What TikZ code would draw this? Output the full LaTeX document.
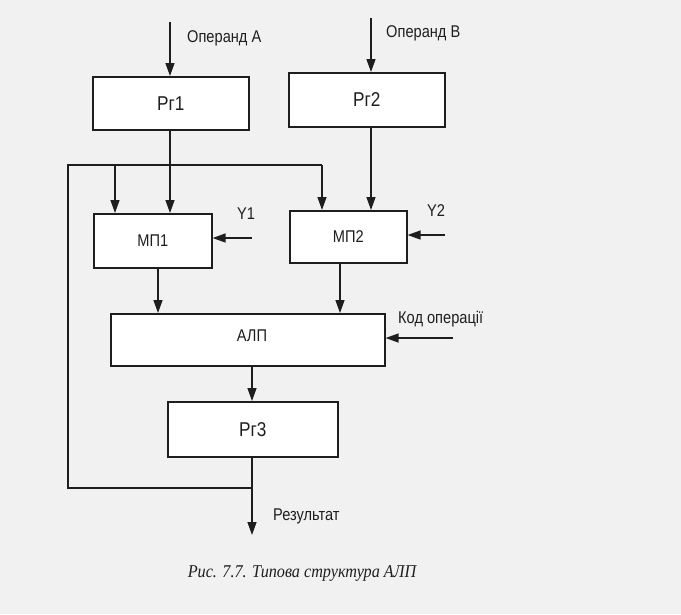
\documentclass[tikz,border=0pt]{standalone}
\usepackage{fontspec}
\setmainfont{Liberation Sans}[FakeStretch=0.86]
\newfontfamily\capfont{Liberation Serif}[FakeStretch=0.9]
\usetikzlibrary{arrows.meta}
\definecolor{bg}{HTML}{F1F1F1}
\definecolor{ink}{HTML}{1E1E1E}
\tikzset{
  blk/.style={draw=ink, line width=1.6pt, fill=white, inner sep=0pt},
  lbl/.style={font=\fontsize{17}{19}\selectfont, text=ink, inner sep=0pt},
  btxt/.style={font=\fontsize{20}{22}\selectfont, text=ink, inner sep=0pt},
  wire/.style={draw=ink, line width=1.4pt},
  arr/.style={wire, -{Triangle[length=13pt,width=9pt]}},
}
\begin{document}
\begin{tikzpicture}[x=1pt,y=-1pt]
\fill[bg] (0,0) rectangle (681,614);
\useasboundingbox (0,0) rectangle (681,614);
% blocks
\node[blk, minimum width=156pt, minimum height=53pt, anchor=north west] (rg1) at (92,76) {};
\node[btxt] at (rg1.center) {Рг1};
\node[blk, minimum width=156pt, minimum height=54pt, anchor=north west] (rg2) at (288,72) {};
\node[btxt] at (rg2.center) {Рг2};
\node[blk, minimum width=118pt, minimum height=54pt, anchor=north west] (mp1) at (93,213) {};
\node[lbl] at (mp1.center) {МП1};
\node[blk, minimum width=117pt, minimum height=52pt, anchor=north west] (mp2) at (289,210) {};
\node[lbl] at (mp2.center) {МП2};
\node[blk, minimum width=274pt, minimum height=52pt, anchor=north west] (alu) at (110,313) {};
\node[lbl] at (252,336) {АЛП};
\node[blk, minimum width=170pt, minimum height=55pt, anchor=north west] (rg3) at (167,401) {};
\node[btxt] at (rg3.center) {Рг3};
% inputs
\coordinate (inA) at (170,22);
\coordinate (inB) at (371,18);
\node[lbl, anchor=west] (opA) at (187,38) {Операнд А};
\node[lbl, anchor=west] (opB) at (386,33) {Операнд В};
\draw[arr] (inA) -- (inA |- rg1.north);
\draw[arr] (inB) -- (inB |- rg2.north);
% Rg1 -> MP1
\draw[arr] (170,129) -- (170,213);
% Rg2 -> MP2
\draw[arr] (371,126) -- (371,210);
% feedback bus
\coordinate (bl) at (68,488);
\coordinate (tl) at (68,165);
\coordinate (tr) at (322,165);
\coordinate (jn) at (252,488);
\draw[wire] (jn) -- (bl) -- (tl) -- (tr);
\draw[arr] (tr) -- (322,210);
\draw[arr] (115,165) -- (115,213);
% control inputs
\node[lbl, anchor=center] (y1) at (246,214) {Y1};
\node[lbl, anchor=center] (y2) at (436,211) {Y2};
\coordinate (y1s) at (252,238);
\coordinate (y2s) at (445,235);
\draw[arr] (y1s) -- (y1s -| mp1.east);
\draw[arr] (y2s) -- (y2s -| mp2.east);
% MP -> ALU
\draw[arr] (158,267) -- (158,313);
\draw[arr] (340,262) -- (340,313);
% op code
\node[lbl, anchor=west] (kod) at (398,319) {Код операції};
\coordinate (kods) at (453,338);
\draw[arr] (kods) -- (kods -| alu.east);
% ALU -> Rg3
\draw[arr] (alu.south -| 252,0) -- (rg3.north -| 252,0);
% result
\coordinate (res) at (252,535);
\draw[arr] (rg3.south -| 252,0) -- (res);
\node[lbl, anchor=west] (rez) at (273,516) {Результат};
% caption
\node[inner sep=0pt, text=ink, font=\capfont\itshape\fontsize{18}{20}\selectfont] (cap) at (302,573) {Рис. 7.7. Типова структура АЛП};
\end{tikzpicture}
\end{document}
